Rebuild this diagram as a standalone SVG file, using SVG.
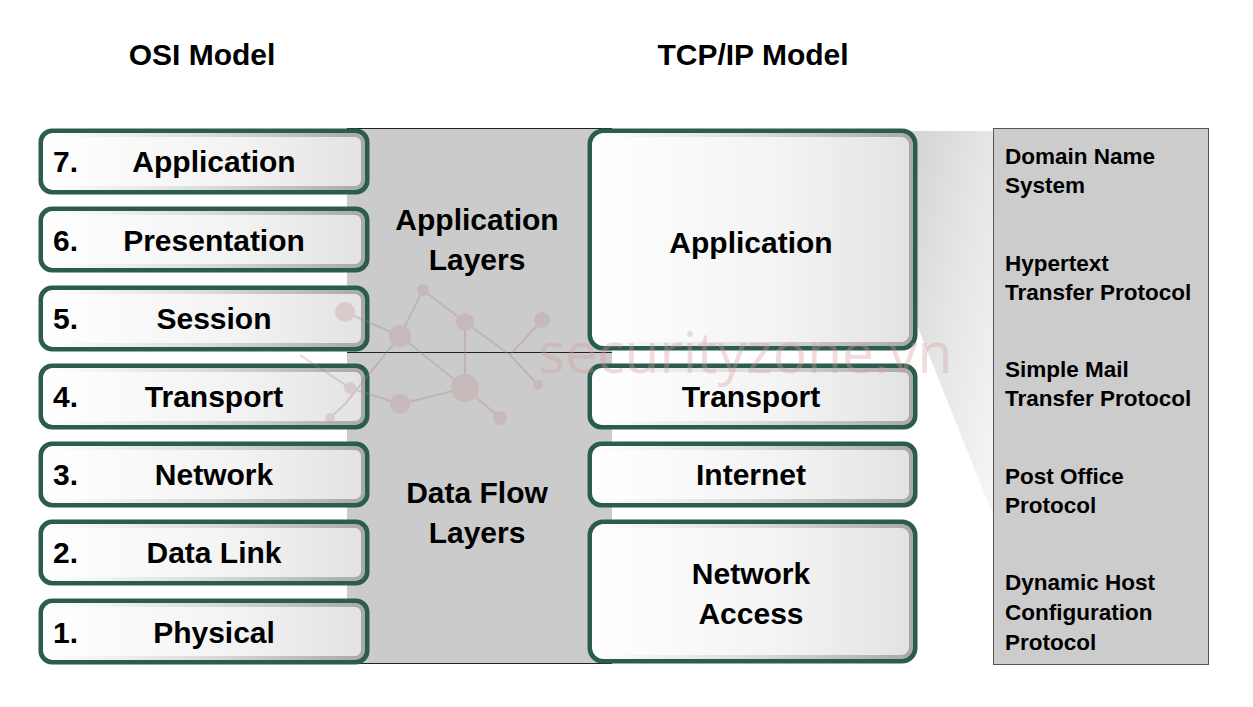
<svg xmlns="http://www.w3.org/2000/svg" width="1253" height="707" viewBox="0 0 1253 707">
<defs>
<linearGradient id="boxFill" x1="0" y1="0" x2="1" y2="0">
<stop offset="0" stop-color="#ffffff"/>
<stop offset="0.6" stop-color="#f3f3f3"/>
<stop offset="1" stop-color="#e2e2e2"/>
</linearGradient>
<linearGradient id="innerEdge" x1="0" y1="0" x2="1" y2="0">
<stop offset="0" stop-color="#ffffff"/>
<stop offset="0.5" stop-color="#dcdcdc"/>
<stop offset="1" stop-color="#a9a9a9"/>
</linearGradient>
<linearGradient id="fan" x1="0" y1="0" x2="1" y2="1">
<stop offset="0" stop-color="#d2d2d2"/>
<stop offset="0.5" stop-color="#e6e6e6"/>
<stop offset="1" stop-color="#f6f6f6"/>
</linearGradient>
</defs>
<style>
text{font-family:"Liberation Sans",Arial,sans-serif;font-weight:bold;fill:#000}
.title{font-size:30px}
.lbl{font-size:30px}
.mid{font-size:30px;text-anchor:middle}
.ctr{text-anchor:middle}
.proto{font-size:22.5px}
.outer{fill:url(#boxFill);stroke:#2a5d4f;stroke-width:5}
.inner{fill:none;stroke:url(#innerEdge);stroke-width:4}
.wm{font-family:"Open Sans","Liberation Sans",sans-serif;font-weight:normal;font-size:57px;fill:#d89a9a;opacity:0.35}
</style>
<rect width="1253" height="707" fill="#ffffff"/>

<g id="titles">
<text class="title" x="202" y="65" text-anchor="middle">OSI Model</text>
<text class="title" x="753" y="65" text-anchor="middle">TCP/IP Model</text>
</g>

<g id="middle-panel">
<rect x="347" y="128" width="265" height="536" fill="#cbcbcb"/>
<line x1="347" y1="128.5" x2="612" y2="128.5" stroke="#222" stroke-width="1"/>
<line x1="347" y1="352.5" x2="612" y2="352.5" stroke="#222" stroke-width="1"/>
<line x1="347" y1="663.5" x2="612" y2="663.5" stroke="#222" stroke-width="1"/>
<text class="mid" x="477" y="230">Application</text>
<text class="mid" x="477" y="270">Layers</text>
<text class="mid" x="477" y="503">Data Flow</text>
<text class="mid" x="477" y="543">Layers</text>
</g>

<g id="fan">
<polygon points="905,131 993,131 993,515 905,295" fill="url(#fan)"/>
</g>

<g id="osi-7">
<rect class="outer" x="41" y="131" width="326" height="61" rx="11"/>
<rect class="inner" x="45" y="135" width="318" height="53" rx="8"/>
<text class="lbl" x="53" y="172">7.</text>
<text class="lbl ctr" x="214" y="172">Application</text>
</g>
<g id="osi-6">
<rect class="outer" x="41" y="209" width="326" height="61" rx="11"/>
<rect class="inner" x="45" y="213" width="318" height="53" rx="8"/>
<text class="lbl" x="53" y="251">6.</text>
<text class="lbl ctr" x="214" y="251">Presentation</text>
</g>
<g id="osi-5">
<rect class="outer" x="41" y="288" width="326" height="61" rx="11"/>
<rect class="inner" x="45" y="292" width="318" height="53" rx="8"/>
<text class="lbl" x="53" y="329">5.</text>
<text class="lbl ctr" x="214" y="329">Session</text>
</g>
<g id="osi-4">
<rect class="outer" x="41" y="366" width="326" height="61" rx="11"/>
<rect class="inner" x="45" y="370" width="318" height="53" rx="8"/>
<text class="lbl" x="53" y="407">4.</text>
<text class="lbl ctr" x="214" y="407">Transport</text>
</g>
<g id="osi-3">
<rect class="outer" x="41" y="444" width="326" height="61" rx="11"/>
<rect class="inner" x="45" y="448" width="318" height="53" rx="8"/>
<text class="lbl" x="53" y="485">3.</text>
<text class="lbl ctr" x="214" y="485">Network</text>
</g>
<g id="osi-2">
<rect class="outer" x="41" y="522" width="326" height="61" rx="11"/>
<rect class="inner" x="45" y="526" width="318" height="53" rx="8"/>
<text class="lbl" x="53" y="563">2.</text>
<text class="lbl ctr" x="214" y="563">Data Link</text>
</g>
<g id="osi-1">
<rect class="outer" x="41" y="601" width="326" height="61" rx="11"/>
<rect class="inner" x="45" y="605" width="318" height="53" rx="8"/>
<text class="lbl" x="53" y="643">1.</text>
<text class="lbl ctr" x="214" y="643">Physical</text>
</g>

<g id="tcp-application">
<rect class="outer" x="590" y="131" width="325" height="217" rx="13"/>
<rect class="inner" x="594" y="135" width="317" height="209" rx="10"/>
<text class="lbl ctr" x="751" y="253">Application</text>
</g>
<g id="tcp-transport">
<rect class="outer" x="590" y="366" width="325" height="61" rx="11"/>
<rect class="inner" x="594" y="370" width="317" height="53" rx="8"/>
<text class="lbl ctr" x="751" y="407">Transport</text>
</g>
<g id="tcp-internet">
<rect class="outer" x="590" y="444" width="325" height="61" rx="11"/>
<rect class="inner" x="594" y="448" width="317" height="53" rx="8"/>
<text class="lbl ctr" x="751" y="485">Internet</text>
</g>
<g id="tcp-network-access">
<rect class="outer" x="590" y="522" width="325" height="139" rx="13"/>
<rect class="inner" x="594" y="526" width="317" height="131" rx="10"/>
<text class="lbl ctr" x="751" y="584">Network</text>
<text class="lbl ctr" x="751" y="624">Access</text>
</g>

<g id="protocols">
<rect x="993.5" y="128.5" width="215" height="536" fill="#cccccc" stroke="#555" stroke-width="1"/>
<text class="proto" x="1005" y="164">Domain Name</text>
<text class="proto" x="1005" y="193">System</text>
<text class="proto" x="1005" y="271">Hypertext</text>
<text class="proto" x="1005" y="300">Transfer Protocol</text>
<text class="proto" x="1005" y="377">Simple Mail</text>
<text class="proto" x="1005" y="406">Transfer Protocol</text>
<text class="proto" x="1005" y="484">Post Office</text>
<text class="proto" x="1005" y="513">Protocol</text>
<text class="proto" x="1005" y="590">Dynamic Host</text>
<text class="proto" x="1005" y="620">Configuration</text>
<text class="proto" x="1005" y="650">Protocol</text>
</g>

<g id="watermark" opacity="0.3">
<g stroke="#b08080" stroke-width="2" fill="none">
<line x1="345" y1="312" x2="400" y2="336"/>
<line x1="400" y1="336" x2="423" y2="290"/>
<line x1="423" y1="290" x2="465" y2="322"/>
<line x1="465" y1="322" x2="510" y2="355"/>
<line x1="510" y1="355" x2="542" y2="320"/>
<line x1="510" y1="355" x2="538" y2="385"/>
<line x1="465" y1="322" x2="465" y2="388"/>
<line x1="400" y1="336" x2="465" y2="388"/>
<line x1="465" y1="388" x2="400" y2="404"/>
<line x1="465" y1="388" x2="500" y2="418"/>
<line x1="400" y1="336" x2="345" y2="404"/>
<line x1="345" y1="404" x2="330" y2="418"/>
<line x1="400" y1="404" x2="350" y2="388"/>
<line x1="300" y1="355" x2="350" y2="388"/>
</g>
<g fill="#c09090">
<circle cx="345" cy="312" r="10"/>
<circle cx="400" cy="336" r="11"/>
<circle cx="423" cy="290" r="6"/>
<circle cx="465" cy="322" r="9"/>
<circle cx="542" cy="320" r="8"/>
<circle cx="538" cy="385" r="5"/>
<circle cx="465" cy="388" r="14"/>
<circle cx="400" cy="404" r="10"/>
<circle cx="500" cy="418" r="7"/>
<circle cx="330" cy="418" r="5"/>
<circle cx="350" cy="388" r="6"/>
</g>
</g>
<text class="wm" x="538" y="373">securityzone.vn</text>
</svg>
